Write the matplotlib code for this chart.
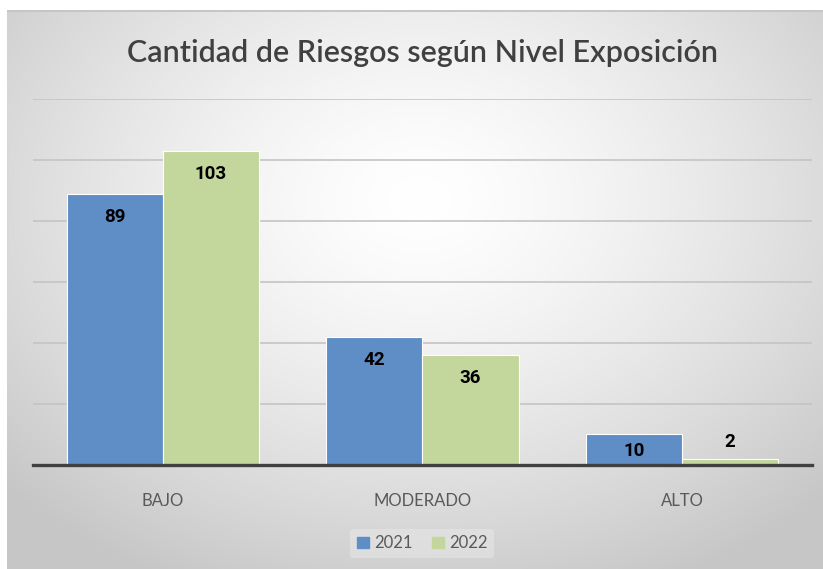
import numpy as np
import matplotlib.pyplot as plt
from matplotlib.patches import Patch

categories = ['BAJO', 'MODERADO', 'ALTO']
years = ['2021', '2022']
values_2021 = [89, 42, 10]
values_2022 = [103, 36, 2]
colors = ['#5f8dc6', '#c3d69b']

plt.rcParams['font.family'] = ['Lato', 'DejaVu Sans']

fig = plt.figure(figsize=(8.23, 5.69), dpi=100)

# radial gray gradient behind the chart, white strip on top/left
bg = fig.add_axes([0, 0, 1, 1], zorder=0)
yy, xx = np.mgrid[0:569, 0:823]
r = np.sqrt(((xx - 420) / 560.0) ** 2 + ((yy - 200) / 420.0) ** 2)
shade = np.clip(1.0 - 0.22 * r ** 1.4, 0.78, 1.0)
shade[:10, :] = 1.0
shade[:, :7] = 1.0
shade[10:12, 7:] = 0.78
shade[10:, 7:9] = np.minimum(shade[10:, 7:9], 0.85)
bg.imshow(np.dstack([shade] * 3), aspect='auto', extent=[0, 1, 0, 1])
bg.axis('off')

ax = fig.add_axes([0.040, 0.1828, 0.9466, 0.643], zorder=1)
ax.patch.set_alpha(0)
x = np.arange(len(categories))
w = 0.37
b1 = ax.bar(x - w / 2, values_2021, w, color=colors[0], edgecolor='white', linewidth=0.8, zorder=3)
b2 = ax.bar(x + w / 2, values_2022, w, color=colors[1], edgecolor='white', linewidth=0.8, zorder=3)

ax.set_xlim(-0.5, 2.5)
ax.set_ylim(0, 120)
ax.set_yticks(range(0, 121, 20))
ax.yaxis.grid(True, color='#c4c4c4', linewidth=1.2, zorder=0)
ax.tick_params(axis='y', left=False, labelleft=False)
ax.tick_params(axis='x', bottom=False, labelsize=12, labelcolor='#595959', pad=17)
ax.set_xticks(x)
ax.set_xticklabels(categories)
for s in ['top', 'right', 'left']:
    ax.spines[s].set_visible(False)
ax.spines['bottom'].set_color('#404040')
ax.spines['bottom'].set_linewidth(2.4)
ax.spines['bottom'].set_zorder(4)

# data labels, inside the bar end when there is room
pt = 100 / 72.0
for bars in (b1, b2):
    for bar in bars:
        h = bar.get_height()
        cx = bar.get_x() + bar.get_width() / 2
        px = h * (366 / 120)
        if px < 26:
            off = 17 / pt
        else:
            off = -min(23, px - 14) / pt
        ax.annotate(f'{h:g}', (cx, h), xytext=(0, off), textcoords='offset points',
                    ha='center', va='center', fontsize=13.5, fontweight='bold',
                    family=['Roboto', 'DejaVu Sans'], color='black')

fig.text(0.513, 0.907, 'Cantidad de Riesgos según Nivel Exposición', ha='center', va='center',
         fontsize=22, fontweight='semibold', color='#404040')

handles = [Patch(color=c) for c in colors]
leg = fig.legend(handles, years, loc='center', bbox_to_anchor=(0.513, 0.045), ncol=2,
                 frameon=True, fontsize=12, handlelength=0.7, handleheight=0.7,
                 handletextpad=0.3, columnspacing=1.2, borderpad=0.4)
leg.get_frame().set_facecolor('#e6e6e6')
leg.get_frame().set_edgecolor('none')
leg.get_frame().set_alpha(0.6)
for t in leg.get_texts():
    t.set_color('#595959')

fig.savefig('out.png', dpi=100)
